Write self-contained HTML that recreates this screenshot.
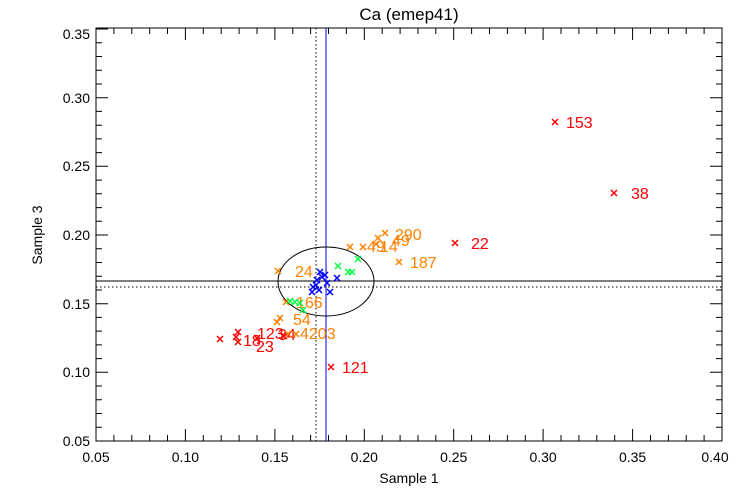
<!DOCTYPE html>
<html><head><style>body{margin:0;background:#fff}svg{display:block}</style></head><body>
<svg width="750" height="500" xmlns="http://www.w3.org/2000/svg" font-family="Liberation Sans, sans-serif">
<defs>
<g id="xm"><path d="M-3,-3L3,3M-3,3L3,-3" stroke-width="1.5"/></g>
</defs>
<rect x="96" y="28" width="626" height="413" fill="none" stroke="#000"/>
<g stroke="#000">
<path d="M96,441v-12M185.4,441v-12M274.9,441v-12M364.3,441v-12M453.7,441v-12M543.1,441v-12M632.6,441v-12M96,28v12M185.4,28v12M274.9,28v12M364.3,28v12M453.7,28v12M543.1,28v12M632.6,28v12"/>
<path d="M96,441h12M96,372.3h12M96,303.7h12M96,235h12M96,166.3h12M96,97.7h12M96,29h12M722,441h-12M722,372.3h-12M722,303.7h-12M722,235h-12M722,166.3h-12M722,97.7h-12"/>
<path id="mx" d="M113.9,441v-6M131.8,441v-6M149.7,441v-6M167.5,441v-6M203.3,441v-6M221.2,441v-6M239.1,441v-6M257,441v-6M292.8,441v-6M310.6,441v-6M328.5,441v-6M346.4,441v-6M382.2,441v-6M400.1,441v-6M418,441v-6M435.8,441v-6M471.6,441v-6M489.5,441v-6M507.4,441v-6M525.3,441v-6M561,441v-6M578.9,441v-6M596.8,441v-6M614.7,441v-6M650.5,441v-6M668.4,441v-6M686.2,441v-6M704.1,441v-6"/>
<path d="M113.9,28v6M131.8,28v6M149.7,28v6M167.5,28v6M203.3,28v6M221.2,28v6M239.1,28v6M257,28v6M292.8,28v6M310.6,28v6M328.5,28v6M346.4,28v6M382.2,28v6M400.1,28v6M418,28v6M435.8,28v6M471.6,28v6M489.5,28v6M507.4,28v6M525.3,28v6M561,28v6M578.9,28v6M596.8,28v6M614.7,28v6M650.5,28v6M668.4,28v6M686.2,28v6M704.1,28v6"/>
<path d="M96,427.3h6M96,413.5h6M96,399.8h6M96,386h6M96,358.6h6M96,344.9h6M96,331.1h6M96,317.4h6M96,290h6M96,276.2h6M96,262.5h6M96,248.7h6M96,221.3h6M96,207.6h6M96,193.8h6M96,180.1h6M96,152.6h6M96,138.9h6M96,125.2h6M96,111.4h6M96,84h6M96,70.2h6M96,56.5h6M96,42.8h6"/>
<path d="M722,427.3h-6M722,413.5h-6M722,399.8h-6M722,386h-6M722,358.6h-6M722,344.9h-6M722,331.1h-6M722,317.4h-6M722,290h-6M722,276.2h-6M722,262.5h-6M722,248.7h-6M722,221.3h-6M722,207.6h-6M722,193.8h-6M722,180.1h-6M722,152.6h-6M722,138.9h-6M722,125.2h-6M722,111.4h-6M722,84h-6M722,70.2h-6M722,56.5h-6M722,42.8h-6"/>
</g>
<g font-size="14" fill="#000" text-anchor="middle">
<text x="96" y="462">0.05</text><text x="185.4" y="462">0.10</text><text x="274.9" y="462">0.15</text><text x="364.3" y="462">0.20</text><text x="453.7" y="462">0.25</text><text x="543.1" y="462">0.30</text><text x="632.6" y="462">0.35</text><text x="715" y="462">0.40</text>
</g>
<g font-size="14" fill="#000" text-anchor="end">
<text x="90" y="446">0.05</text><text x="90" y="377">0.10</text><text x="90" y="309">0.15</text><text x="90" y="240">0.20</text><text x="90" y="171">0.25</text><text x="90" y="103">0.30</text><text x="90" y="39">0.35</text>
</g>
<text x="409" y="483" font-size="14" text-anchor="middle">Sample 1</text>
<text x="42" y="235" font-size="14" text-anchor="middle" transform="rotate(-90 42 235)">Sample 3</text>
<text x="409" y="20" font-size="17" text-anchor="middle">Ca (emep41)</text>
<path d="M316,28V441M96,287H722" stroke="#000" stroke-dasharray="1.5,2.5"/>
<path d="M96,281H722" stroke="#000"/>
<path d="M326,28V441" stroke="#00f"/>
<ellipse cx="326" cy="281.5" rx="48" ry="34.5" fill="none" stroke="#000"/>
<g stroke="#f00">
<use href="#xm" x="555" y="122"/><use href="#xm" x="614" y="193"/><use href="#xm" x="455" y="243"/><use href="#xm" x="331" y="367"/>
<use href="#xm" x="220" y="339"/><use href="#xm" x="238" y="332"/><use href="#xm" x="238" y="342"/><use href="#xm" x="236" y="337"/><use href="#xm" x="257" y="338"/><use href="#xm" x="284" y="336"/>
</g>
<g fill="#f00" font-size="16">
<text x="566" y="128">153</text><text x="631" y="199">38</text><text x="471" y="249">22</text><text x="342" y="373">121</text>
<text x="243" y="346">18</text><text x="257" y="339">123</text><text x="256" y="352">23</text><text x="278" y="340">34</text>
</g>
<g stroke="#ff8000">
<use href="#xm" x="385" y="233"/><use href="#xm" x="378" y="238"/><use href="#xm" x="376" y="244"/><use href="#xm" x="363" y="247"/><use href="#xm" x="350" y="247"/><use href="#xm" x="399" y="262"/>
<use href="#xm" x="278" y="271"/><use href="#xm" x="286" y="302"/><use href="#xm" x="280" y="318"/><use href="#xm" x="277" y="322"/><use href="#xm" x="288" y="334"/><use href="#xm" x="296" y="334"/>
</g>
<g fill="#ff8000" font-size="16">
<text x="395" y="240">290</text><text x="392" y="246">49</text><text x="367" y="252">49</text><text x="380" y="252">14</text><text x="410" y="268">187</text>
<text x="295" y="277">24</text><text x="296" y="308">166</text><text x="293" y="325">54</text><text x="300" y="339">4203</text>
</g>
<g stroke="#00ff40">
<use href="#xm" x="338" y="266"/><use href="#xm" x="348" y="272"/><use href="#xm" x="352" y="272"/><use href="#xm" x="358" y="259"/>
<use href="#xm" x="290" y="301"/><use href="#xm" x="295" y="302"/><use href="#xm" x="300" y="303"/><use href="#xm" x="303" y="310"/>
</g>
<g stroke="#00f">
<use href="#xm" x="320" y="272"/><use href="#xm" x="325" y="275"/><use href="#xm" x="317" y="280"/><use href="#xm" x="327" y="283"/><use href="#xm" x="313" y="287"/><use href="#xm" x="319" y="290"/><use href="#xm" x="312" y="292"/><use href="#xm" x="330" y="292"/><use href="#xm" x="337" y="278"/><use href="#xm" x="316" y="285"/><use href="#xm" x="322" y="277"/>
</g>
</svg>
</body></html>
